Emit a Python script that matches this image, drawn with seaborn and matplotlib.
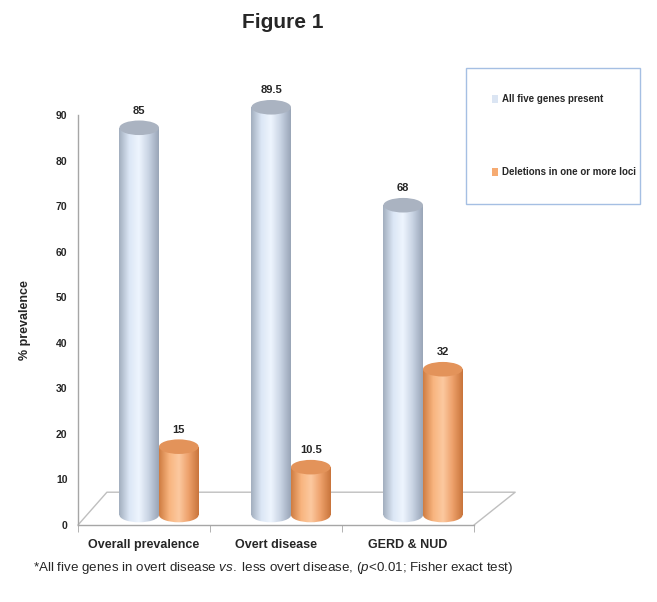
import numpy as np
import pandas as pd
import matplotlib
matplotlib.use('Agg')
import matplotlib.pyplot as plt
import matplotlib.transforms as mtransforms
from matplotlib.colors import LinearSegmentedColormap
from matplotlib.patches import Ellipse, Patch
from matplotlib.lines import Line2D
import seaborn as sns

# data
groups = ['Overall prevalence', 'Overt disease', 'GERD & NUD']
all_five_present = [85, 89.5, 68]
deletions = [15, 10.5, 32]
series_names = ['All five genes present', 'Deletions in one or more loci']

df = pd.DataFrame({
    'group': groups * 2,
    'prevalence': all_five_present + deletions,
    'status': [series_names[0]] * 3 + [series_names[1]] * 3,
})

sns.set_style('white')
plt.rcParams['font.family'] = ['Liberation Sans', 'DejaVu Sans']
plt.rcParams['mathtext.fontset'] = 'custom'
plt.rcParams['mathtext.it'] = 'Liberation Sans:italic'
plt.rcParams['mathtext.rm'] = 'Liberation Sans'

blue = '#dbe5f3'
orange = '#f6ab72'
shade = {
    blue: LinearSegmentedColormap.from_list('b', ['#a3afbf', '#dbe6f5', '#eef5fe', '#c8d3e3', '#9aa6b8']),
    orange: LinearSegmentedColormap.from_list('o', ['#d07d42', '#f8b47e', '#fcc9a0', '#eda06a', '#c9753c']),
}
cap = {blue: '#aab3c1', orange: '#e3935a'}

fig = plt.figure(figsize=(6.57, 6.02), dpi=100)
ax = fig.add_axes([78 / 657, 77 / 602, 396 / 657, 410 / 602])

sns.barplot(data=df, x='group', y='prevalence', hue='status',
            palette=[blue, orange], width=0.6, saturation=1,
            legend=False, ax=ax)

# 3D look: push the bars back by a small offset
depth = mtransforms.ScaledTranslation(15 / 100, 10 / 100, fig.dpi_scale_trans)
trans = ax.transData + depth
grad = np.linspace(0, 1, 64).reshape(1, -1)
cap_h = 3.2

for patch, color in zip(ax.patches, [blue] * 3 + [orange] * 3):
    x0 = patch.get_x()
    w = patch.get_width()
    top = patch.get_height()
    cx = x0 + w / 2
    patch.set_transform(trans)
    patch.set_clip_on(False)
    bottom = Ellipse((cx, 0), w, cap_h, transform=trans, facecolor='none',
                     edgecolor='none', clip_on=False)
    ax.add_patch(bottom)
    for clip in (bottom, patch):
        im = ax.imshow(grad, cmap=shade[color], aspect='auto',
                       extent=[x0, x0 + w, -cap_h, top], transform=trans,
                       zorder=2, clip_on=True)
        im.set_clip_path(clip)
    ax.add_patch(Ellipse((cx, top), w, cap_h, transform=trans,
                         facecolor=cap[color], edgecolor='none', zorder=3,
                         clip_on=False))
    ax.text(cx, top + 2.6, f'{top:g}', transform=trans, ha='center',
            va='bottom', fontsize=8, fontweight='bold')

ax.set_xlim(-0.5, 2.5)
ax.set_ylim(0, 90)
ax.set_yticks(range(0, 91, 10))
ax.set_xticks([0, 1, 2])
ax.set_xticks([-0.5, 0.5, 1.5, 2.5], minor=True)
ax.tick_params(axis='x', which='major', length=0, pad=10, labelsize=9)
ax.tick_params(axis='x', which='minor', length=5, color='#a6a6a6', direction='out')
ax.tick_params(axis='y', length=4, color='#a6a6a6', direction='out', labelsize=7.5)
ax.tick_params(axis='x', which='both', bottom=True)
for lab in ax.get_xticklabels() + ax.get_yticklabels():
    lab.set_fontweight('bold')
for side in ['top', 'right']:
    ax.spines[side].set_visible(False)
for side in ['left', 'bottom']:
    ax.spines[side].set_color('#a6a6a6')
    ax.spines[side].set_linewidth(1)
ax.set_xlabel('')
ax.set_ylabel('% prevalence', fontsize=9, fontweight='bold', labelpad=18)

# floor of the 3D chart
ax.add_line(Line2D([0, 0.073, 1.104, 1.0], [0, 0.08, 0.08, 0],
                   transform=ax.transAxes, color='#bfbfbf', lw=1,
                   clip_on=False, zorder=1))

handles = [Patch(facecolor=blue, edgecolor='none'),
           Patch(facecolor=orange, edgecolor='none')]
leg = fig.legend(handles, series_names, loc='upper left',
                 bbox_to_anchor=(466 / 657, 1 - 68 / 602, 174 / 657, 0),
                 mode='expand', borderaxespad=0, fontsize=7, handlelength=0.6,
                 handleheight=1.0, handletextpad=0.4, labelspacing=6.5,
                 borderpad=2.7, fancybox=False, frameon=True)
leg.get_frame().set_edgecolor('#8fb0dc')
leg.get_frame().set_linewidth(1)
for t in leg.get_texts():
    t.set_fontweight('bold')

fig.text(283 / 657, 1 - 22 / 602, 'Figure 1', ha='center', va='center',
         fontsize=15, fontweight='bold')
fig.text(33 / 657, 1 - 568 / 602,
         r'*All five genes in overt disease $\it{vs.}$ less overt disease, ($\it{p}$<0.01; Fisher exact test)',
         ha='left', va='center', fontsize=9.6)

fig.savefig('out.png', dpi=100)
